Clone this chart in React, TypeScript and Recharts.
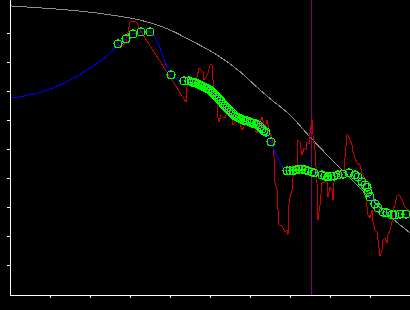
import { ComposedChart, Line, Scatter, XAxis, YAxis, ReferenceLine } from 'recharts';

// prior curve (gray)
const priorX = [0, 7.5, 17.5, 25, 32.5, 40, 45, 51.75, 57.5, 62.5, 65.5, 70, 75, 81.25, 87.5, 93.75, 100];
const priorY = [99.7, 99.0, 97.9, 96.6, 94.8, 91.4, 87.9, 82.8, 77.0, 70.7, 67.2, 62.1, 54.5, 45.5, 36.9, 28.6, 21.4];

// smoothed estimate (blue)
const estX = [0, 5, 10, 15, 20, 25, 27, 29, 30.75, 32.75, 35, 36.25, 38, 39.25, 40.25, 42, 43.5, 44.75, 45.75, 46.75,
  47.5, 48.25, 49.25, 50, 50.75, 51.5, 52.5, 53.25, 54.25, 55, 55.75, 56.75, 57.5, 58.25, 59.25, 60, 61, 61.75, 62.5,
  63.25, 64, 65.25, 66.25, 67.5, 68.5, 69.25, 70.5, 71.75, 73.25, 74.25, 75.5, 77, 78.25, 80, 82, 83.25, 84.75, 86.25,
  87, 88, 89.25, 89.5, 90, 91.25, 92, 93.25, 94.25, 95.5, 97.5, 99, 100];
const estY = [67.9, 69.0, 71.0, 74.1, 78.3, 83.4, 86.6, 88.3, 90.0, 90.7, 90.7, 89.0, 83.4, 78.6, 75.9, 74.1, 73.8, 73.8, 73.4, 73.1,
  72.4, 71.7, 71.4, 70.7, 69.7, 68.6, 67.2, 65.5, 64.5, 63.1, 62.1, 61.4, 61.0, 60.3, 59.7, 59.7, 59.3, 59.0, 57.9,
  56.9, 56.2, 52.8, 49.3, 45.5, 43.4, 42.8, 42.8, 43.1, 43.4, 43.1, 42.4, 41.7, 41.4, 41.0, 41.4, 41.7, 42.1, 41.4,
  40.7, 39.0, 37.2, 35.5, 33.8, 31.4, 30.0, 28.6, 28.3, 27.6, 27.9, 27.9, 27.9];

// samples (green circles)
const sampleX = [27, 29, 30.75, 32.75, 35, 40.25, 43.5, 44.75, 45.5, 46, 46.5, 47, 47.5, 48, 48.5, 49, 49.5, 50, 50.5,
  50.75, 51.25, 51.75, 52.25, 52.75, 53.25, 53.75, 54.25, 54.75, 55.25, 55.75, 56.25, 56.75, 57.25, 57.75, 58.25,
  58.75, 59.25, 60, 60.5, 61, 61.5, 62, 62.5, 63, 63.5, 64, 65.25, 69.25, 70, 70.75, 71.5, 72.25, 73, 73.75, 74.5,
  75.5, 76, 78, 78.75, 79.5, 80.25, 81, 82, 83.25, 84.75, 86.25, 87, 88, 88.75, 89.25, 89.5, 90, 91.25, 92, 93.25,
  94.25, 95.5, 96.25, 97.5, 99];
const sampleY = [86.6, 88.3, 90.0, 90.7, 90.7, 75.9, 73.8, 73.8, 73.4, 73.4, 73.1, 72.8, 72.4, 72.1, 71.7, 71.4, 71.0, 70.7, 70.0,
  69.7, 69.0, 68.3, 67.6, 66.9, 65.9, 65.2, 64.5, 63.8, 63.1, 62.4, 61.7, 61.4, 61.0, 60.7, 60.3,
  60.0, 60.0, 59.7, 59.3, 59.3, 59.0, 58.6, 57.9, 57.2, 56.6, 56.2, 52.8, 42.8, 42.8, 42.8, 43.1, 43.4, 43.4, 43.1, 42.8,
  42.4, 42.1, 41.4, 41.0, 40.7, 41.0, 41.0, 41.4, 41.7, 42.1, 41.4, 40.7, 39.0, 37.9, 37.2, 35.5, 33.8, 31.4, 30.0, 28.6,
  28.3, 27.6, 27.6, 27.9, 27.9];

// measurements (red), pixel readings converted
const measPx = [118, 123, 126, 130, 135, 137, 140, 186, 187, 188, 192, 194, 197, 199, 201, 203, 204, 206, 208, 210, 212, 213,
  215, 217, 218, 219, 221, 223, 225, 228, 230, 232, 233, 235, 238, 240, 242, 244, 247, 249, 251, 253, 255, 257, 260, 262,
  264, 265, 267, 269, 270, 272, 273, 274, 275, 277, 278, 279, 282, 283, 285, 287, 288, 288.5, 290, 292, 293, 295, 297, 298,
  300, 302, 304, 306, 307, 309, 310, 312, 313, 315, 317, 318, 320, 322, 325, 327, 328, 330, 332, 333, 334, 337, 340, 342,
  344, 345, 347, 348, 350, 352, 353, 355, 357, 360, 362, 364, 365, 366, 367, 368, 370, 372, 373, 375, 377, 378, 380, 382,
  383, 385, 387, 388, 390, 392, 393, 395, 397, 400, 402, 405, 408, 410];
const measPy = [46, 46, 42, 22, 21, 23, 30, 102, 87, 80, 80, 82, 77, 68, 70, 72, 80, 77, 73, 65, 65, 80,
  95, 104, 118, 122, 115, 117, 118, 108, 110, 117, 125, 123, 120, 123, 130, 127, 118, 125, 122, 126, 130, 133, 122, 117,
  125, 128, 120, 130, 133, 138, 143, 157, 183, 190, 210, 225, 226, 228, 232, 230, 235, 207, 197, 190, 177, 167, 168, 140,
  142, 155, 148, 150, 142, 144, 133, 120, 135, 150, 183, 220, 205, 183, 182, 182, 197, 187, 190, 200, 182, 170, 172, 178,
  170, 158, 135, 135, 140, 145, 152, 158, 163, 165, 173, 177, 187, 192, 207, 215, 218, 210, 222, 230, 232, 240, 256, 250,
  240, 238, 243, 235, 230, 222, 210, 205, 196, 196, 200, 207, 210, 213];

const priorData = priorX.map((x, i) => ({ x, y: priorY[i] }));
const estData = estX.map((x, i) => ({ x, y: estY[i] }));
const sampleData = sampleX.map((x, i) => ({ x, y: sampleY[i] }));
const measData = measPx.map((px, i) => ({ x: (px - 10) / 4, y: (295 - measPy[i]) / 2.9 }));

const xTicks = [10, 20, 30, 40, 50, 60, 70, 80, 90];
const yTicks = [10, 20, 30, 40, 50, 60, 70, 80, 90];

const Ring = (props: any) => (
  <circle cx={props.cx} cy={props.cy} r={4} fill="none" stroke="#00ff00" strokeWidth={1.2} />
);

export default function App() {
  return (
    <div style={{ position: 'absolute', left: 0, top: 0, width: 410, height: 310, background: '#000' }}>
      <style>{'.recharts-surface * { shape-rendering: crispEdges; }'}</style>
      <ComposedChart width={410} height={310} margin={{ top: 0, right: 0, bottom: 0, left: 0 }}>
        <XAxis
          type="number"
          dataKey="x"
          domain={[0, 100]}
          ticks={xTicks}
          height={15}
          stroke="#fff"
          tickSize={3}
          tickFormatter={() => ''}
          allowDataOverflow
        />
        <YAxis
          type="number"
          dataKey="y"
          domain={[0, 101.72]}
          ticks={yTicks}
          width={10}
          stroke="#fff"
          tickSize={3}
          tickFormatter={() => ''}
          allowDataOverflow
        />
        <ReferenceLine x={75.3} stroke="#800080" strokeWidth={1} />
        <Line data={priorData} dataKey="y" type="monotone" stroke="#8c8c8c" strokeWidth={1} dot={false} isAnimationActive={false} />
        <Line data={measData} dataKey="y" type="linear" stroke="#cc0000" strokeWidth={1} dot={false} isAnimationActive={false} />
        <Line data={estData} dataKey="y" type="monotone" stroke="#0000ff" strokeWidth={1} dot={false} isAnimationActive={false} />
        <Scatter data={sampleData} dataKey="y" shape={Ring} isAnimationActive={false} />
      </ComposedChart>
    </div>
  );
}
